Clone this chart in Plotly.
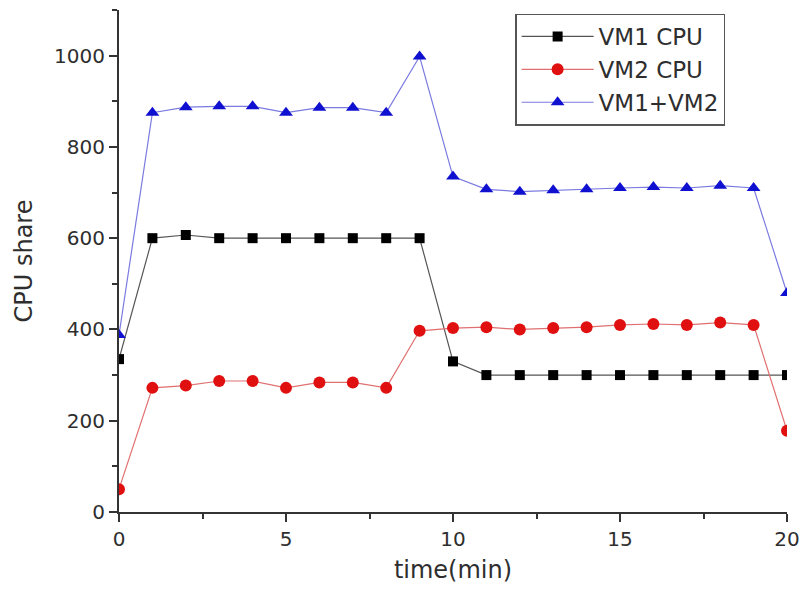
import plotly.graph_objects as go

time_min = list(range(21))
vm1_cpu = [335, 600, 607, 600, 600, 600, 600, 600, 600, 600, 330,
           300, 300, 300, 300, 300, 300, 300, 300, 300, 300]
vm2_cpu = [50, 272, 277, 287, 287, 272, 284, 284, 272, 397, 403,
           405, 400, 403, 405, 410, 412, 410, 415, 410, 178]
vm_sum = [388, 875, 887, 889, 889, 875, 886, 886, 875, 998, 735,
          707, 702, 705, 707, 710, 712, 710, 715, 710, 480]

series_names = ["VM1 CPU", "VM2 CPU", "VM1+VM2"]
x_ticks = [0, 5, 10, 15, 20]
y_ticks = [0, 200, 400, 600, 800, 1000]

font_family = "DejaVu Sans, Liberation Sans, sans-serif"
text_color = "#2e2e2e"

fig = go.Figure()
fig.add_trace(go.Scatter(
    x=time_min, y=vm1_cpu, name=series_names[0], mode="lines+markers",
    line=dict(color="#555555", width=1.2),
    marker=dict(symbol="square", size=10, color="#000000"),
))
fig.add_trace(go.Scatter(
    x=time_min, y=vm2_cpu, name=series_names[1], mode="lines+markers",
    line=dict(color="#e07070", width=1.2),
    marker=dict(symbol="circle", size=12, color="#e01010"),
))
fig.add_trace(go.Scatter(
    x=time_min, y=vm_sum, name=series_names[2], mode="lines+markers",
    line=dict(color="#7a7ae0", width=1.2),
    marker=dict(symbol="triangle-up", size=12, color="#1010d0"),
))

axis_common = dict(
    showgrid=False, zeroline=False, showline=True, linecolor="#333333",
    linewidth=2, ticks="outside", ticklen=8, tickwidth=2, tickcolor="#333333",
    tickfont=dict(size=20, color=text_color, family=font_family),
    mirror=False, automargin=False,
)

fig.update_xaxes(
    range=[0, 20], tickvals=x_ticks,
    minor=dict(dtick=2.5, tick0=0, ticks="outside", ticklen=5, tickwidth=1.5, tickcolor="#333333"),
    title=dict(text="time(min)", font=dict(size=24, color=text_color, family=font_family)),
    **axis_common,
)
fig.update_yaxes(
    range=[0, 1100], tickvals=y_ticks,
    minor=dict(dtick=100, tick0=0, ticks="outside", ticklen=5, tickwidth=1.5, tickcolor="#333333"),
    title=dict(text="CPU share", font=dict(size=24, color=text_color, family=font_family)),
    **axis_common,
)

# page body has an 8px default margin, so the figure is placed from (8, 8)
fig.update_layout(
    width=802, height=576,
    margin=dict(l=111, r=23, t=2, b=72),
    paper_bgcolor="white", plot_bgcolor="white",
    font=dict(family=font_family, color=text_color),
    legend=dict(
        x=0.593, y=0.993, xanchor="left", yanchor="top",
        bordercolor="#555555", borderwidth=1.5, bgcolor="white",
        font=dict(size=23, color=text_color, family=font_family),
        itemwidth=72, tracegroupgap=0,
    ),
)

fig.write_html("out.html")
